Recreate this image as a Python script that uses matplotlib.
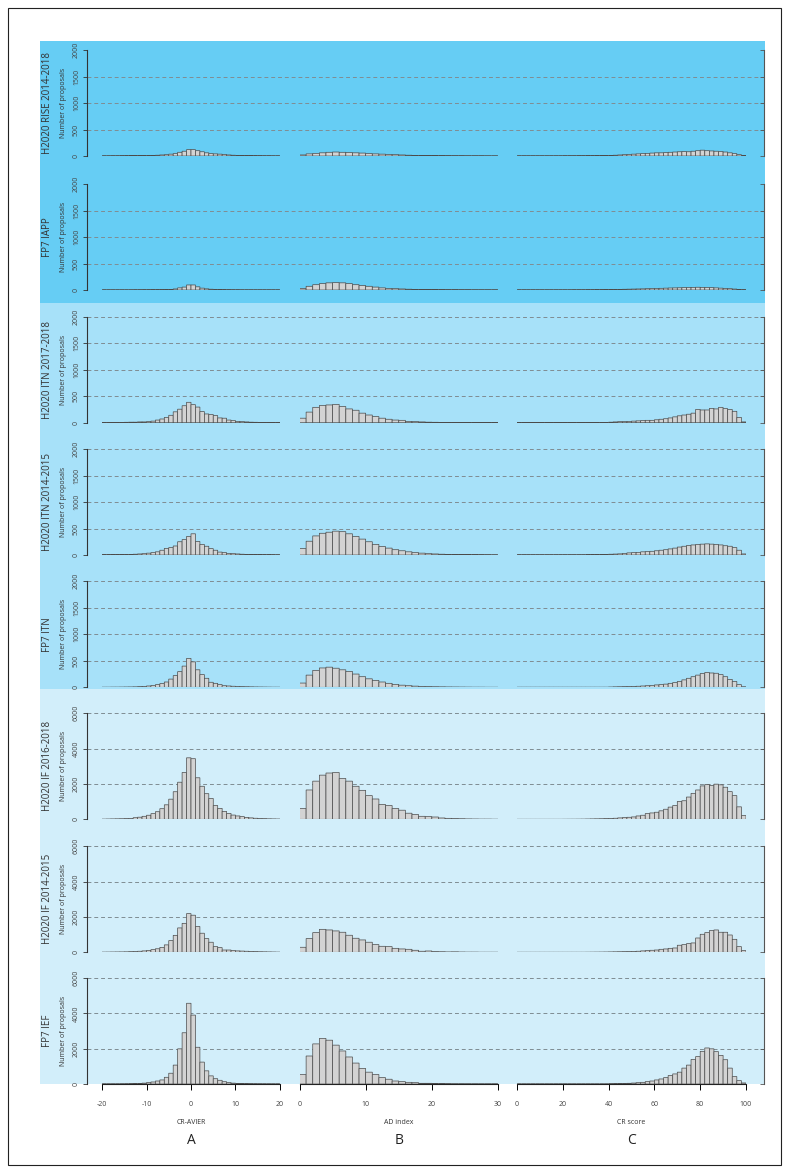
import numpy as np
import matplotlib
matplotlib.use("Agg")
import matplotlib.pyplot as plt
from matplotlib.patches import Rectangle

plt.rcParams['font.family'] = ['Open Sans', 'DejaVu Sans']

W, H = 789, 1173

ROW_LABELS = ["H2020 RISE 2014-2018", "FP7 IAPP", "H2020 ITN 2017-2018",
              "H2020 ITN 2014-2015", "FP7 ITN", "H2020 IF 2016-2018",
              "H2020 IF 2014-2015", "FP7 IEF"]
Y_MAX = [2000, 2000, 2000, 2000, 2000, 6000, 6000, 6000]
Y_STEP = [500, 500, 500, 500, 500, 2000, 2000, 2000]

# column A: CR-AVIER, bins of 1 from -20 to 20
rise_a = [2, 2, 3, 3, 4, 5, 6, 7, 8, 10,
          10, 12, 15, 20, 25, 35, 45, 70, 90, 120,
          120, 100, 80, 60, 45, 40, 35, 30, 20, 15,
          10, 10, 8, 6, 5, 4, 3, 3, 2, 2]
iapp_a = [2, 2, 2, 2, 2, 2, 2, 3, 3, 4,
          4, 5, 5, 5, 8, 12, 20, 40, 55, 95,
          95, 60, 35, 22, 15, 10, 8, 5, 4, 3,
          3, 2, 2, 2, 2, 2, 2, 2, 2, 2]
itn17_a = [2, 3, 3, 4, 5, 8, 10, 10, 15, 15,
           20, 30, 50, 70, 100, 140, 205, 255, 320, 385,
           340, 295, 210, 165, 155, 135, 90, 85, 50, 40,
           25, 20, 15, 10, 8, 5, 4, 3, 2, 2]
itn15_a = [5, 5, 6, 8, 10, 10, 12, 15, 20, 25,
           35, 45, 60, 90, 125, 140, 170, 250, 290, 350,
           400, 255, 200, 165, 120, 90, 55, 45, 30, 25,
           20, 15, 12, 10, 8, 6, 5, 5, 4, 3]
fp7itn_a = [2, 2, 3, 3, 4, 5, 6, 8, 12, 18,
            25, 35, 50, 70, 100, 155, 220, 295, 400, 545,
            480, 330, 240, 170, 95, 75, 50, 30, 25, 20,
            15, 12, 10, 8, 6, 5, 4, 3, 2, 2]
if16_a = [10, 15, 20, 25, 30, 40, 50, 90, 120, 170,
          230, 320, 430, 600, 820, 1140, 1560, 2100, 2650, 3480,
          3430, 2350, 1870, 1450, 1180, 780, 620, 450, 330, 240,
          190, 150, 110, 80, 60, 45, 35, 25, 20, 15]
if14_a = [10, 12, 15, 18, 20, 25, 35, 45, 60, 80,
          110, 150, 200, 280, 420, 660, 960, 1380, 1640, 2190,
          2100, 1460, 1080, 775, 570, 320, 265, 130, 130, 100,
          80, 70, 60, 50, 40, 30, 25, 20, 15, 10]
ief_a = [2, 2, 3, 3, 5, 8, 12, 20, 30, 50,
         80, 115, 170, 230, 380, 610, 1070, 1990, 2900, 4570,
         3900, 2080, 1240, 745, 460, 300, 210, 130, 80, 50,
         30, 20, 15, 10, 8, 5, 4, 3, 2, 2]

# column B: AD index, bins of 1 from 0 to 30
rise_b = [20, 40, 50, 60, 70, 75, 70, 65, 60, 55, 45, 40, 35, 30, 25,
          20, 15, 12, 10, 8, 6, 5, 4, 3, 3, 2, 2, 2, 1, 1]
iapp_b = [30, 70, 100, 120, 135, 140, 135, 120, 100, 85, 70, 55, 40, 30, 25,
          20, 15, 12, 10, 8, 6, 5, 4, 4, 3, 3, 2, 2, 2, 2]
itn17_b = [85, 200, 290, 325, 335, 345, 305, 260, 235, 180, 145, 115, 85, 65, 50,
           45, 25, 20, 15, 10, 8, 5, 4, 3, 3, 2, 2, 2, 1, 1]
itn15_b = [120, 260, 360, 410, 430, 450, 440, 400, 350, 300, 250, 200, 160, 130, 100,
           80, 60, 45, 35, 25, 20, 15, 12, 10, 8, 6, 5, 4, 3, 2]
fp7itn_b = [80, 230, 320, 365, 380, 360, 330, 300, 250, 200, 160, 130, 100, 75, 55,
            40, 30, 22, 16, 12, 10, 8, 6, 5, 4, 3, 2, 2, 1, 1]
if16_b = [610, 1660, 2160, 2500, 2620, 2650, 2310, 2160, 1870, 1640, 1340, 1150, 840, 780, 610,
          515, 345, 270, 170, 150, 130, 75, 55, 40, 30, 20, 15, 10, 10, 5]
if14_b = [285, 775, 1115, 1300, 1265, 1210, 1135, 965, 795, 700, 570, 435, 340, 320, 225,
          190, 170, 115, 60, 75, 40, 30, 20, 25, 15, 10, 10, 5, 5, 5]
ief_b = [535, 1585, 2270, 2580, 2480, 2200, 1870, 1530, 1185, 880, 670, 535, 360, 270, 170,
         135, 95, 75, 40, 40, 20, 15, 10, 5, 5, 4, 3, 2, 2, 2]

# column C: CR score, bins of 2 from 0 to 100
rise_c = [2, 2, 2, 2, 2, 2, 2, 2, 2, 2, 3, 3, 3, 4, 4, 5, 5, 6, 7, 8,
          10, 15, 20, 25, 30, 35, 40, 45, 50, 55,
          60, 60, 65, 70, 75, 80, 85, 80, 90, 100,
          110, 100, 95, 90, 85, 75, 60, 45, 25, 10]
iapp_c = [2, 2, 2, 2, 2, 2, 2, 2, 2, 2, 2, 2, 3, 3, 3, 4, 4, 5, 5, 6,
          8, 10, 12, 14, 16, 18, 20, 22, 25, 28,
          30, 32, 35, 38, 40, 42, 45, 48, 50, 52,
          50, 48, 45, 40, 35, 30, 25, 18, 10, 4]
itn17_c = [2, 2, 2, 2, 2, 2, 2, 2, 2, 2, 2, 2, 2, 2, 2, 2, 2, 2, 2, 2,
           10, 15, 20, 20, 25, 30, 35, 40, 45, 45,
           55, 65, 75, 90, 110, 130, 145, 160, 180, 250,
           240, 240, 270, 260, 290, 265, 250, 215, 100, 15]
itn15_c = [3, 3, 3, 3, 3, 3, 3, 3, 3, 3, 3, 3, 3, 3, 3,
           5, 6, 8, 10, 12, 15, 18, 22, 30, 40, 45, 50, 60, 65, 70,
           80, 90, 100, 115, 130, 150, 165, 180, 190, 200,
           205, 210, 205, 200, 190, 175, 165, 140, 90, 20]
fp7itn_c = [2, 2, 2, 2, 2, 2, 2, 2, 2, 2, 2, 2, 2, 2, 2, 2, 2, 2, 2, 2,
            5, 8, 10, 12, 15, 15, 20, 25, 30, 35,
            45, 50, 60, 75, 90, 110, 140, 170, 200, 230,
            260, 280, 270, 265, 240, 200, 150, 110, 50, 10]
if16_c = [2, 2, 2, 2, 2, 2, 2, 2, 2, 2,
          4, 5, 6, 8, 10, 15, 20, 25, 30, 40,
          50, 60, 80, 95, 115, 135, 190, 230, 325, 360,
          400, 480, 570, 690, 780, 1010, 1050, 1260, 1470, 1660,
          1890, 1970, 1910, 1990, 1950, 1815, 1565, 1340, 705, 210]
if14_c = [4, 4, 4, 4, 4, 4, 4, 4, 4, 4, 4, 4, 4, 4, 4,
          6, 8, 10, 12, 15, 20, 25, 30, 35, 40, 50, 60, 80, 95, 115,
          130, 170, 190, 225, 245, 400, 435, 490, 530, 810,
          1020, 1115, 1230, 1265, 1135, 1135, 980, 735, 320, 95]
ief_c = [1, 1, 1, 1, 1, 1, 1, 1, 1, 1, 1, 1, 1, 1, 1, 1, 1, 1, 1, 1,
         10, 15, 20, 30, 40, 55, 75, 95, 135, 170,
         230, 285, 360, 480, 570, 670, 900, 1070, 1390, 1550,
         1850, 2040, 1990, 1830, 1620, 1375, 900, 420, 190, 60]

COL_A = [rise_a, iapp_a, itn17_a, itn15_a, fp7itn_a, if16_a, if14_a, ief_a]
COL_B = [rise_b, iapp_b, itn17_b, itn15_b, fp7itn_b, if16_b, if14_b, ief_b]
COL_C = [rise_c, iapp_c, itn17_c, itn15_c, fp7itn_c, if16_c, if14_c, ief_c]

COLUMNS = [
    # (counts, bin start, bin width, xlim, ticks, xlabel, letter, left px, width px)
    (COL_A, -20, 1, (-20, 20), [-20, -10, 0, 10, 20], "CR-AVIER", "A", 102, 178),
    (COL_B, 0, 1, (0, 30), [0, 10, 20, 30], "AD index", "B", 299.5, 198.5),
    (COL_C, 0, 2, (0, 100), [0, 20, 40, 60, 80, 100], "CR score", "C", 517, 229),
]

ZERO_Y = [156, 290, 422.7, 555, 687.3, 819.3, 952.3, 1084]
ROW_H = 106
BANDS = [(41, 303, '#66cdf4'), (303, 689, '#a7e1f9'), (689, 1084, '#d2eefa')]

TEXT = '#333333'


def fx(px):
    return px / W


def fy(py):
    return 1 - py / H


fig = plt.figure(figsize=(W / 100, H / 100), dpi=100)

# background: frame and coloured bands, drawn on an axes behind everything
bg = fig.add_axes([0, 0, 1, 1], zorder=-10)
bg.set_xlim(0, W)
bg.set_ylim(H, 0)
bg.axis('off')
bg.add_patch(Rectangle((8, 8), 773, 1157, fill=False, edgecolor='#222222', linewidth=0.8))
for top, bottom, color in BANDS:
    bg.add_patch(Rectangle((40, top), 725, bottom - top, facecolor=color, edgecolor='none'))

for r in range(8):
    bottom = fy(ZERO_Y[r])
    height = ROW_H / H
    ymax = Y_MAX[r]
    ticks = np.arange(0, ymax + 1, Y_STEP[r])

    # frame axes: y axis, right line and dashed grid across the row
    axg = fig.add_axes([fx(87), bottom, fx(764) - fx(87), height])
    axg.set_facecolor('none')
    axg.set_ylim(0, ymax)
    axg.set_xlim(0, 1)
    axg.set_xticks([])
    for s in ['top', 'bottom']:
        axg.spines[s].set_visible(False)
    axg.spines['left'].set_color('#333333')
    axg.spines['right'].set_color('#555555')
    axg.spines['left'].set_linewidth(0.8)
    axg.spines['right'].set_linewidth(0.8)
    axg.set_yticks(ticks)
    axg.set_yticklabels([str(t) for t in ticks], rotation=90, va='center',
                        fontsize=5, color='#444444')
    axg.tick_params(axis='y', length=3, width=0.6, pad=2, color='#333333')
    for t in ticks:
        if t == ymax and r < 2:
            continue
        axg.axhline(t, color='#7f8c92', linewidth=0.7, linestyle=(0, (4, 3)), zorder=1)
    axr = axg.twinx()
    axr.set_ylim(0, ymax)
    axr.set_yticks(ticks)
    axr.set_yticklabels([])
    axr.tick_params(axis='y', direction='in', length=3, width=0.6, color='#555555')
    for s in axr.spines.values():
        s.set_visible(False)

    fig.text(fx(64), fy(ZERO_Y[r] - ROW_H / 2), "Number of proposals", rotation=90,
             ha='center', va='center', fontsize=5, color=TEXT)
    fig.text(fx(47), fy(ZERO_Y[r] - ROW_H / 2), ROW_LABELS[r], rotation=90,
             ha='center', va='center', fontsize=7, color=TEXT)

    # three histograms on their own x scales
    for counts, start, bw, xlim, xticks, xlabel, letter, left, width in COLUMNS:
        ax = fig.add_axes([fx(left), bottom, width / W, height])
        ax.set_facecolor('none')
        ax.set_xlim(*xlim)
        ax.set_ylim(0, ymax)
        vals = counts[r]
        edges = start + bw * np.arange(len(vals))
        bars = ax.bar(edges, vals, width=bw, align='edge', color='#d3d3d3',
                      edgecolor='#4a4a4a', linewidth=0.5, zorder=3)
        for b in bars:
            b.set_snap(False)
        ax.set_yticks([])
        for s in ['top', 'left', 'right']:
            ax.spines[s].set_visible(False)
        if r == 7:
            ax.spines['bottom'].set_color('#222222')
            ax.spines['bottom'].set_linewidth(0.8)
            ax.set_xticks(xticks)
            ax.set_xticklabels([str(t) for t in xticks], fontsize=5, color='#444444')
            ax.tick_params(axis='x', length=4, width=0.7, pad=8)
            cx = left + width / 2
            fig.text(fx(cx), fy(1122), xlabel, ha='center', va='center',
                     fontsize=5, color=TEXT)
            fig.text(fx(cx), fy(1141), letter, ha='center', va='center',
                     fontsize=10, color='#222222')
        else:
            ax.spines['bottom'].set_visible(False)
            ax.set_xticks([])

fig.savefig("out.png", dpi=100)
